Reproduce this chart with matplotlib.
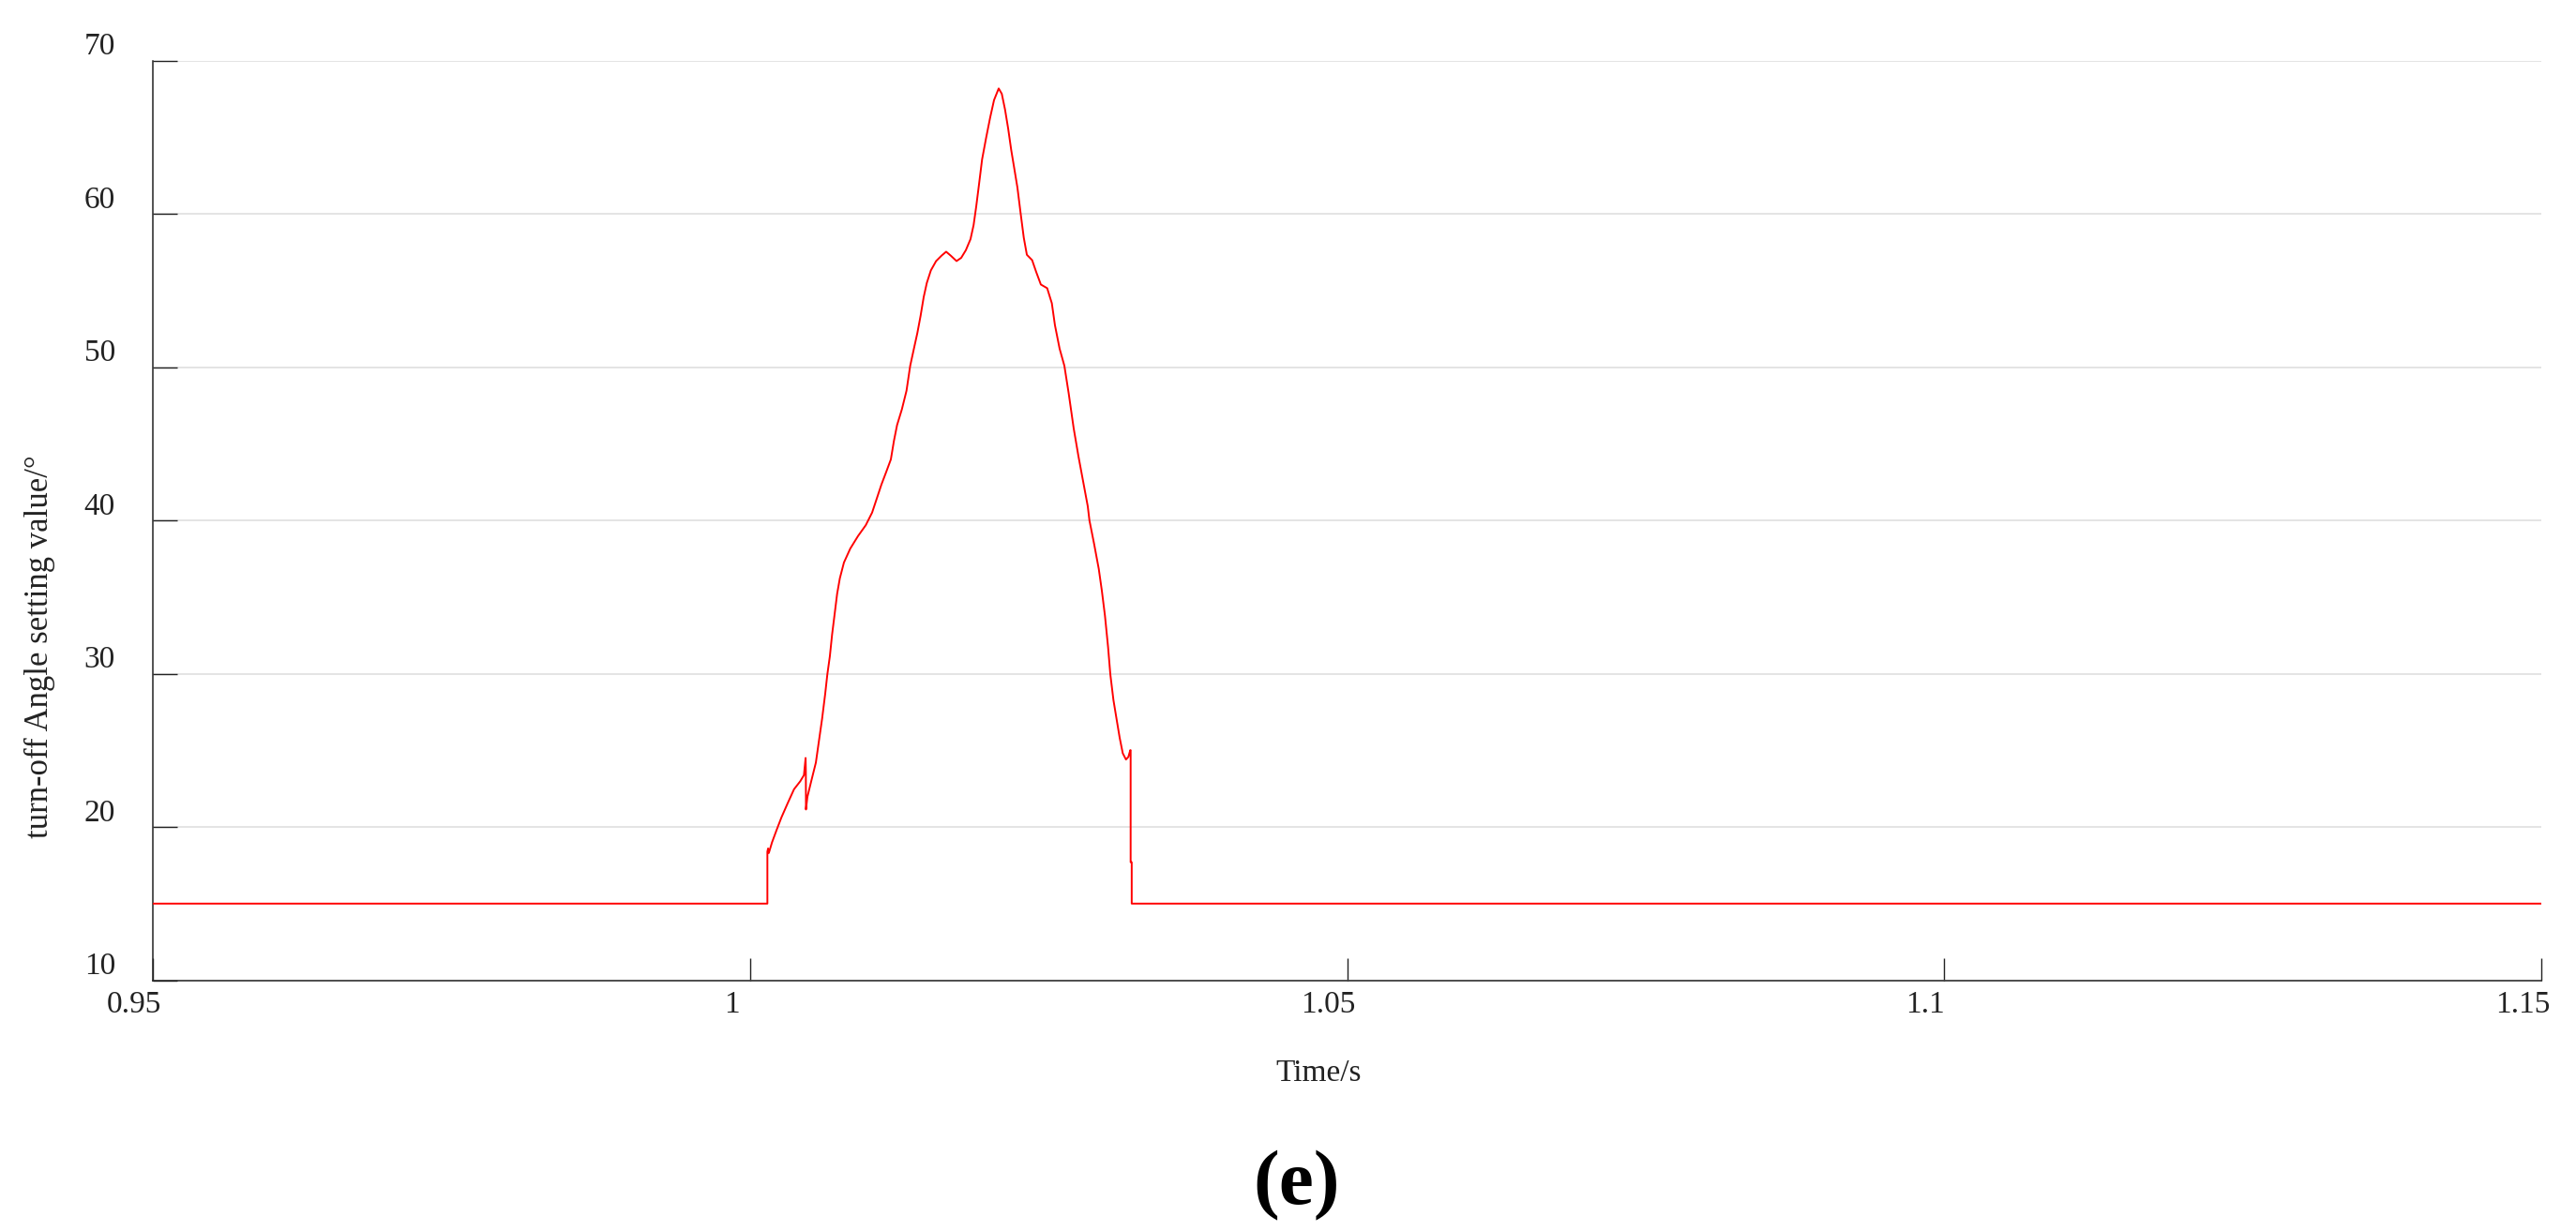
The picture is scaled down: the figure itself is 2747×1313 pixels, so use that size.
import matplotlib

matplotlib.use("Agg")

import matplotlib.pyplot as plt
import matplotlib.transforms as mtransforms

# turn-off angle setting value vs time
time_s = [
    0.95, 1.00144, 1.00144, 1.00150, 1.00156, 1.00183, 1.00222, 1.00262,
    1.00314, 1.00367, 1.00419, 1.00450, 1.00464, 1.00466, 1.00467, 1.00479,
    1.00511, 1.00550, 1.00576, 1.00602, 1.00628, 1.00646, 1.00667, 1.00686,
    1.00707, 1.00728, 1.00751, 1.00785, 1.00838, 1.00903, 1.00968, 1.01021,
    1.01099, 1.01139, 1.01178, 1.01204, 1.01230, 1.01270, 1.01309, 1.01340,
    1.01374, 1.01400, 1.01427, 1.01453, 1.01479, 1.01513, 1.01557, 1.01602,
    1.01641, 1.01680, 1.01728, 1.01767, 1.01806, 1.01845, 1.01871, 1.01893,
    1.01916, 1.01942, 1.01976, 1.02010, 1.02042, 1.02081, 1.02107, 1.02134,
    1.02160, 1.02186, 1.02212, 1.02238, 1.02264, 1.02291, 1.02317, 1.02361,
    1.02395, 1.02434, 1.02487, 1.02526, 1.02552, 1.02591, 1.02631, 1.02667,
    1.02709, 1.02749, 1.02788, 1.02827, 1.02841, 1.02880, 1.02919, 1.02945,
    1.02971, 1.02997, 1.03016, 1.03042, 1.03068, 1.03094, 1.03120, 1.03147,
    1.03167, 1.03183, 1.03186, 1.03186, 1.03195, 1.03195, 1.15,
]
angle_deg = [
    15.0, 15.0, 18.39, 18.6, 18.3, 19.0, 19.82, 20.63,
    21.55, 22.46, 22.98, 23.38, 24.5, 23.6, 21.14, 21.96,
    22.98, 24.20, 25.63, 27.05, 28.68, 29.95, 31.13, 32.56,
    33.88, 35.21, 36.23, 37.25, 38.16, 38.98, 39.69, 40.51,
    42.34, 43.16, 43.98, 45.20, 46.22, 47.24, 48.46, 50.09,
    51.31, 52.23, 53.35, 54.57, 55.49, 56.31, 56.92, 57.27,
    57.53, 57.27, 56.92, 57.13, 57.63, 58.35, 59.27, 60.49,
    61.91, 63.55, 64.97, 66.30, 67.42, 68.18, 67.83, 66.81,
    65.58, 64.16, 62.94, 61.71, 60.08, 58.45, 57.33, 56.98,
    56.21, 55.39, 55.15, 54.17, 52.74, 51.21, 50.09, 48.30,
    46.01, 44.18, 42.55, 40.92, 40.0, 38.47, 36.84, 35.41,
    33.78, 31.74, 29.95, 28.28, 27.05, 25.83, 24.81, 24.40,
    24.57, 25.01, 25.01, 17.7, 17.7, 15.0, 15.0,
]

x_ticks = [0.95, 1.0, 1.05, 1.1, 1.15]
x_tick_labels = ["0.95", "1", "1.05", "1.1", "1.15"]
y_ticks = [10, 20, 30, 40, 50, 60, 70]

INK = "#222222"
GRID = "#dcdcdc"

plt.rcParams["font.family"] = ["Liberation Serif", "DejaVu Serif"]

fig = plt.figure(figsize=(27.47, 13.13), dpi=100)
ax = fig.add_axes([0.05945, 0.2037, 0.9271, 0.7471])

ax.plot(time_s, angle_deg, color="red", linewidth=1.4, zorder=3)

ax.set_xlim(0.95, 1.15)
ax.set_ylim(10, 70)
ax.set_xticks(x_ticks, x_tick_labels)
ax.set_yticks(y_ticks)

ax.grid(axis="y", color=GRID, linewidth=1.1, zorder=0)
ax.spines[["top", "right"]].set_visible(False)
ax.spines[["left", "bottom"]].set_color(INK)
ax.spines[["left", "bottom"]].set_linewidth(1.1)

ax.tick_params(axis="y", direction="in", length=19, width=1.0, color=INK,
               labelsize=24, labelcolor=INK, pad=29)
ax.tick_params(axis="x", direction="in", length=17, width=1.0, color=INK,
               labelsize=24, labelcolor=INK, pad=8)

# labels in the source sit slightly off their ticks
dy = mtransforms.ScaledTranslation(0, 0.18, fig.dpi_scale_trans)
for lbl in ax.get_yticklabels():
    lbl.set_transform(lbl.get_transform() + dy)
dx = mtransforms.ScaledTranslation(-0.2, 0, fig.dpi_scale_trans)
for lbl in ax.get_xticklabels():
    lbl.set_transform(lbl.get_transform() + dx)

fig.text(0.0153, 0.4745, "turn-off Angle setting value/°", rotation=90,
         ha="center", va="center", fontsize=25, color=INK)
fig.text(0.5118, 0.128, "Time/s", ha="center", va="center",
         fontsize=24, color=INK)
fig.text(0.5035, 0.037, "(e)", ha="center", va="center",
         fontsize=60, fontweight="bold", color="black")

fig.savefig("out.png", dpi=100)
